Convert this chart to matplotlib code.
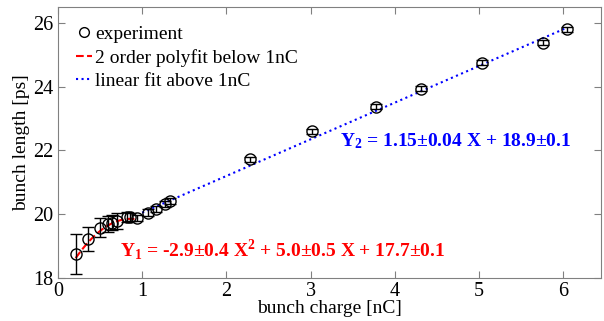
import matplotlib
matplotlib.use("Agg")
import matplotlib.pyplot as plt
from matplotlib.lines import Line2D
import numpy as np

plt.rcParams['font.family'] = ['Liberation Serif', 'DejaVu Serif']
plt.rcParams['mathtext.fontset'] = 'custom'
plt.rcParams['mathtext.rm'] = 'Liberation Serif'
plt.rcParams['mathtext.bf'] = 'Liberation Serif:bold'

# measured bunch charge [nC] and bunch length [ps]
charge = [0.21, 0.36, 0.50, 0.60, 0.64, 0.70, 0.82, 0.855, 0.94, 1.065, 1.16, 1.27, 1.33,
          2.28, 3.02, 3.78, 4.31, 5.04, 5.76, 6.05]
length = [18.75, 19.22, 19.58, 19.70, 19.74, 19.80, 19.92, 19.92, 19.88, 20.05, 20.17, 20.33, 20.42,
          21.72, 22.60, 23.38, 23.94, 24.75, 25.38, 25.80]
length_err = [0.62, 0.38, 0.30, 0.25, 0.25, 0.25, 0.15, 0.12, 0.10, 0.10, 0.10, 0.10, 0.10,
              0.08, 0.08, 0.08, 0.08, 0.08, 0.08, 0.08]

# fit coefficients
poly2 = [-2.9, 5.0, 17.7]
lin = [1.15, 18.9]
poly_range = [0.21, 0.95]
lin_range = [1.0, 6.05]

fig = plt.figure(figsize=(6.04, 3.21), dpi=100)
ax = fig.add_axes([0.096, 0.134, 0.899, 0.844])

ax.errorbar(charge, length, yerr=length_err, fmt='o', mfc='none', mec='black', ecolor='black',
            ms=8, mew=1.0, elinewidth=1.0, capsize=4, capthick=1.0, zorder=3)

xp = np.linspace(poly_range[0], poly_range[1], 50)
ax.plot(xp, np.polyval(poly2, xp), '--', color='red', lw=1.5)
xl = np.linspace(lin_range[0], lin_range[1], 50)
ax.plot(xl, np.polyval(lin, xl), ':', color='blue', lw=1.5)

ax.text(0.74, 18.87, r'$\mathbf{Y_1}$ = -2.9±0.4 X$^\mathbf{2}$ + 5.0±0.5 X + 17.7±0.1',
        color='red', fontsize=14, fontweight='bold', va='center')
ax.text(3.35, 22.3, r'$\mathbf{Y_2}$ = 1.15±0.04 X + 18.9±0.1',
        color='blue', fontsize=14, fontweight='bold', va='center')

ax.set_xlim(0, 6.45)
ax.set_ylim(18, 26.5)
ax.set_xticks([0, 1, 2, 3, 4, 5, 6])
ax.set_yticks([18, 20, 22, 24, 26])
ax.tick_params(direction='in', top=True, right=True, labelsize=14.5, length=5, color='#808080')
ax.tick_params(axis='x', pad=3)
for s in ax.spines.values():
    s.set_color('#808080')
ax.set_xlabel('bunch charge [nC]', fontsize=14, labelpad=-1)
ax.set_ylabel('bunch length [ps]', fontsize=14, labelpad=2)

handles = [
    Line2D([], [], ls='none', marker='o', mfc='none', mec='black', ms=7),
    Line2D([], [], ls='--', color='red', lw=1.5),
    Line2D([], [], ls=':', color='blue', lw=1.5),
]
labels = ['experiment', '2 order polyfit below 1nC', 'linear fit above 1nC']
ax.legend(handles, labels, loc='upper left', frameon=False, fontsize=14,
          handlelength=0.8, handletextpad=0.15, labelspacing=0.3,
          borderaxespad=0.55)

fig.savefig('out.png', dpi=100)
